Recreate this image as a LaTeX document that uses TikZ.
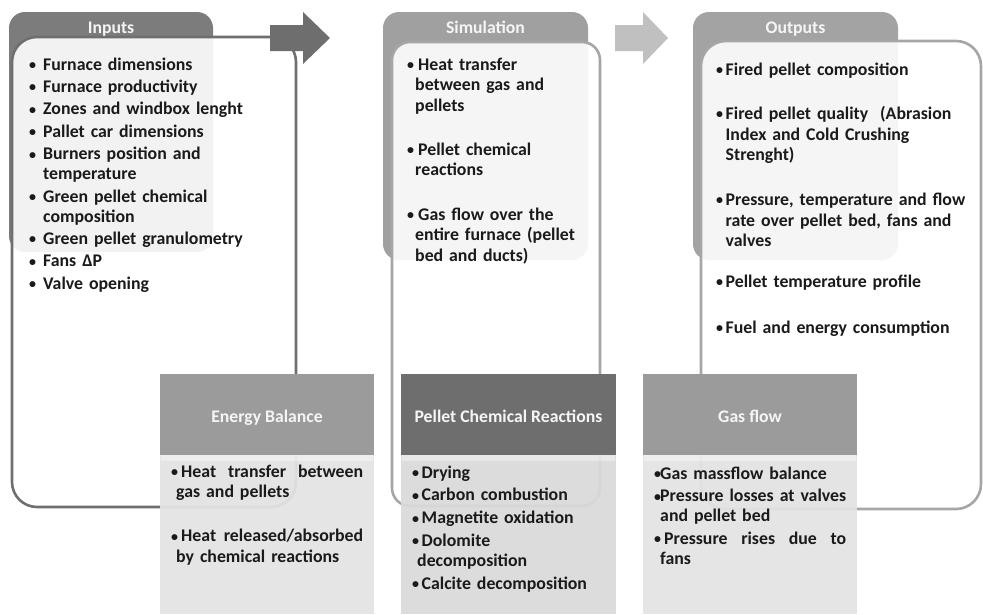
\documentclass[tikz,border=0pt]{standalone}
\usepackage{fontspec}
\setmainfont{Carlito}
\definecolor{tabA}{HTML}{7C7C7C}
\definecolor{tabB}{HTML}{A0A0A0}
\definecolor{tabC}{HTML}{A3A3A3}
\definecolor{lineA}{HTML}{6F6F6F}
\definecolor{lineB}{HTML}{A6A6A6}
\definecolor{arrowA}{HTML}{6E6E6E}
\definecolor{arrowB}{HTML}{C0C0C0}
\definecolor{hdrLight}{HTML}{9B9B9B}
\definecolor{hdrDark}{HTML}{6E6E6E}
\definecolor{bodyLight}{HTML}{E3E3E3}
\definecolor{bodyDark}{HTML}{DADADA}
\definecolor{txt}{HTML}{1A1A1A}
\newcommand\bdot{\raisebox{0.6pt}{\fontsize{14}{12}\selectfont\textbullet}}
\newcommand\bw[1]{\makebox[#1][l]{\bdot}}
\begin{document}
\begin{tikzpicture}[x=1pt,y=-1pt,
  title/.style={text=white!96!black, font=\fontsize{17.7}{20}\selectfont\bfseries, inner sep=0pt, anchor=base},
  list/.style={text=txt, text width=#1, align=left, anchor=base west, inner sep=0pt, font=\fontsize{17.8}{20.5}\selectfont\bfseries},
  overlay/.style={line width=2.6pt, fill=white, fill opacity=0.9},
  body/.style={fill opacity=0.94},
]
\useasboundingbox (0,0) rectangle (983,614);
% ---------- Inputs
\fill[tabA, rounded corners=16pt] (9,12) rectangle (213,252);
\draw[overlay, draw=lineA, rounded corners=25pt] (12,37) rectangle (296,507);
\fill[arrowA] (270,25) -- (303,25) -- (303,12) -- (330,38) -- (303,64) -- (303,51) -- (270,51) -- cycle;
% ---------- Simulation
\fill[tabB, rounded corners=16pt] (383,12) rectangle (588,260);
\draw[overlay, draw=lineB, rounded corners=18pt] (392,42) rectangle (600,506);
\fill[arrowB] (615,25) -- (643,25) -- (643,12) -- (668,38) -- (643,64) -- (643,51) -- (615,51) -- cycle;
% ---------- Outputs
\fill[tabC, rounded corners=16pt] (693,12) rectangle (898,260);
\draw[overlay, draw=lineB, rounded corners=25pt] (701,41) rectangle (981,509);
% ---------- bottom boxes
\fill[hdrLight] (160,374) rectangle (374,455);
\fill[bodyLight, body] (160,455) rectangle (374,614);
\fill[white, fill opacity=0.35] (161,455) rectangle (373,461);
\fill[hdrDark] (401,374) rectangle (616,455);
\fill[bodyDark, body] (401,455) rectangle (616,614);
\fill[white, fill opacity=0.35] (402,455) rectangle (615,461);
\fill[hdrLight] (643,374) rectangle (857,455);
\fill[bodyLight, body] (643,455) rectangle (857,614);
\fill[white, fill opacity=0.35] (644,455) rectangle (856,461);
% ---------- titles
\node[title] (tIn) at (111,33) {Inputs};
\node[title] (tSim) at (485.5,33) {Simulation};
\node[title] (tOut) at (795.5,33) {Outputs};
\node[title] (tEB) at (267,422) {Energy Balance};
\node[title] (tPCR) at (508.5,422) {Pellet Chemical Reactions};
\node[title] (tGF) at (750,422) {Gas flow};
% ---------- lists
\node[list=250pt, font=\fontsize{17.8}{20}\selectfont\bfseries] (lIn) at (29,70) {%
\bw{14pt}Furnace dimensions\\[2.4pt]
\bw{14pt}Furnace productivity\\[2.4pt]
\bw{14pt}Zones and windbox lenght\\[2.4pt]
\bw{14pt}Pallet car dimensions\\[2.4pt]
\bw{14pt}Burners position and\\ \hspace*{14pt}temperature\\[2.4pt]
\bw{14pt}Green pellet chemical\\ \hspace*{14pt}composition\\[2.4pt]
\bw{14pt}Green pellet granulometry\\[2.4pt]
\bw{14pt}Fans ΔP\\[2.4pt]
\bw{14pt}Valve opening};
\node[list=220pt] (lSim) at (407,70) {%
\bw{11pt}Heat transfer\\ \hspace*{8pt}between gas and\\ \hspace*{8pt}pellets\\[23.8pt]
\bw{11pt}Pellet chemical\\ \hspace*{8pt}reactions\\[23.8pt]
\bw{11pt}Gas flow over the\\ \hspace*{8pt}entire furnace (pellet\\ \hspace*{8pt}bed and ducts)};
\node[list=270pt] (lOut) at (716,75) {%
\bw{9.5pt}Fired pellet composition\\[24pt]
\bw{9.5pt}Fired pellet quality~ (Abrasion\\ \hspace*{9.5pt}Index and Cold Crushing\\ \hspace*{9.5pt}Strenght)\\[24.5pt]
\bw{9.5pt}Pressure, temperature and flow\\ \hspace*{9.5pt}rate over pellet bed, fans and\\ \hspace*{9.5pt}valves\\[20.5pt]
\bw{9.5pt}Pellet temperature profile\\[25.5pt]
\bw{9.5pt}Fuel and energy consumption};
\node[list=192pt] (lEB) at (171,477) {%
\makebox[192pt]{\bw{10pt}Heat\hfill transfer\hfill between}\\ \hspace*{5pt}gas and pellets\\[23.8pt]
\makebox[192pt]{\bw{10pt}Heat\hfill released/absorbed}\\ \hspace*{5pt}by chemical reactions};
\node[list=200pt, font=\fontsize{17.8}{20}\selectfont\bfseries] (lPCR) at (412,478) {%
\bw{9.5pt}Drying\\[2.8pt]
\bw{9.5pt}Carbon combustion\\[2.8pt]
\bw{9.5pt}Magnetite oxidation\\[2.8pt]
\bw{9.5pt}Dolomite\\ \hspace*{5pt}decomposition\\[2.8pt]
\bw{9.5pt}Calcite decomposition};
\node[list=192pt, font=\fontsize{17.8}{20}\selectfont\bfseries] (lGF) at (654,479) {%
\bw{6pt}Gas massflow balance\\[2.8pt]
\makebox[192pt]{\bw{6pt}Pressure\hfill losses\hfill at\hfill valves}\\ \hspace*{6pt}and pellet bed\\[2.5pt]
\makebox[192pt]{\bw{10pt}Pressure\hfill rises\hfill due\hfill to}\\ \hspace*{6pt}fans};
\end{tikzpicture}
\end{document}
